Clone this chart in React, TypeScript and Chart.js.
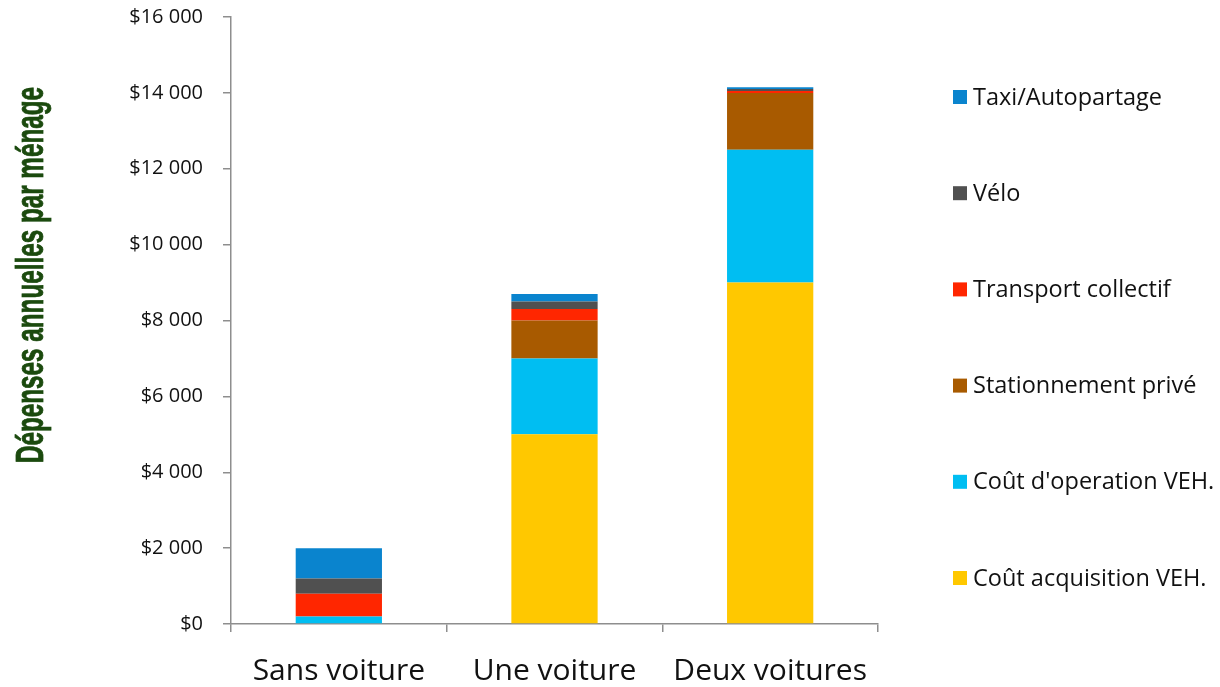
import React, { useEffect, useRef } from "react";
import { Chart, registerables } from "chart.js";

Chart.register(...registerables);

const categories = ["Sans voiture", "Une voiture", "Deux voitures"];

const seriesNames = [
  "Coût acquisition VEH.",
  "Coût d'operation VEH.",
  "Stationnement privé",
  "Transport collectif",
  "Vélo",
  "Taxi/Autopartage",
];
const seriesColors = ["#FFC800", "#00BEF2", "#A85A00", "#FF2600", "#505050", "#0A84CE"];

const acquisition = [0, 5000, 9000];
const operation = [200, 2000, 3500];
const stationnement = [0, 1000, 1500];
const transport = [600, 300, 50];
const velo = [400, 200, 50];
const taxi = [800, 200, 50];

const seriesValues = [acquisition, operation, stationnement, transport, velo, taxi];

const yTickLabels = ["$0", "$2 000", "$4 000", "$6 000", "$8 000", "$10 000", "$12 000", "$14 000", "$16 000"];
const yTitle = "Dépenses annuelles par ménage";

const AXIS_COLOR = "#8E8E8E";

const customPlugin = {
  id: "customDeco",
  afterDraw(chart: any) {
    const ctx = chart.ctx;
    ctx.save();
    // y-axis title (condensed bold)
    ctx.translate(43, 275);
    ctx.rotate(-Math.PI / 2);
    ctx.font = "bold 38px 'Liberation Sans', Arial, sans-serif";
    const natural = ctx.measureText(yTitle).width;
    ctx.scale(376 / natural, 1);
    ctx.fillStyle = "#1B4A0E";
    ctx.strokeStyle = "#1B4A0E";
    ctx.lineWidth = 0.8;
    ctx.textAlign = "center";
    ctx.textBaseline = "alphabetic";
    ctx.fillText(yTitle, 0, 0);
    ctx.strokeText(yTitle, 0, 0);
    ctx.restore();

    // legend (reverse order)
    ctx.save();
    ctx.font = "23.5px 'Open Sans', sans-serif";
    ctx.textAlign = "left";
    ctx.textBaseline = "middle";
    const n = seriesNames.length;
    for (let i = 0; i < n; i++) {
      const idx = n - 1 - i;
      const y = 97 + i * 96.2;
      ctx.fillStyle = seriesColors[idx];
      ctx.fillRect(953, y - 7, 14, 14);
      ctx.fillStyle = "#111111";
      ctx.fillText(seriesNames[idx], 973, y + 1);
    }
    ctx.restore();
  },
};

export default function App() {
  const ref = useRef<HTMLCanvasElement | null>(null);
  useEffect(() => {
    if (!ref.current) return;
    const chart = new Chart(ref.current, {
      type: "bar",
      data: {
        labels: categories,
        datasets: seriesNames.map((name, i) => ({
          label: name,
          data: seriesValues[i],
          backgroundColor: seriesColors[i],
          borderWidth: 0,
          barPercentage: 0.4,
          categoryPercentage: 1.0,
        })),
      },
      options: {
        responsive: false,
        animation: false,
        devicePixelRatio: 1,
        layout: { padding: { left: 0, top: 17, right: 342, bottom: 0 } },
        plugins: {
          legend: { display: false },
          tooltip: { enabled: false },
        },
        scales: {
          x: {
            stacked: true,
            afterFit: (s: any) => {
              s.height = 63;
            },
            grid: {
              display: true,
              drawOnChartArea: false,
              drawTicks: true,
              tickLength: 8,
              color: AXIS_COLOR,
              lineWidth: 1.5,
              offset: true,
            },
            border: { display: true, color: AXIS_COLOR, width: 1.5 },
            ticks: {
              color: "#111111",
              font: { family: "'Open Sans', sans-serif", size: 30 },
              padding: 21,
              maxRotation: 0,
            },
          },
          y: {
            stacked: true,
            min: 0,
            max: 16000,
            afterFit: (s: any) => {
              s.width = 231;
              s.paddingTop = 0;
              s.paddingBottom = 0;
            },
            grid: {
              display: true,
              drawOnChartArea: false,
              drawTicks: true,
              tickLength: 8,
              color: AXIS_COLOR,
              lineWidth: 1.5,
            },
            border: { display: true, color: AXIS_COLOR, width: 1.5 },
            ticks: {
              stepSize: 2000,
              color: "#111111",
              font: { family: "'Open Sans', sans-serif", size: 20 },
              padding: 20,
              callback: (_v: any, i: number) => yTickLabels[i],
            },
          },
        },
      },
      plugins: [customPlugin],
    });
    return () => chart.destroy();
  }, []);
  return (
    <div style={{ position: "absolute", left: 0, top: 0, width: 1220, height: 687, background: "#fff" }}>
      <canvas ref={ref} width={1220} height={687} />
    </div>
  );
}
